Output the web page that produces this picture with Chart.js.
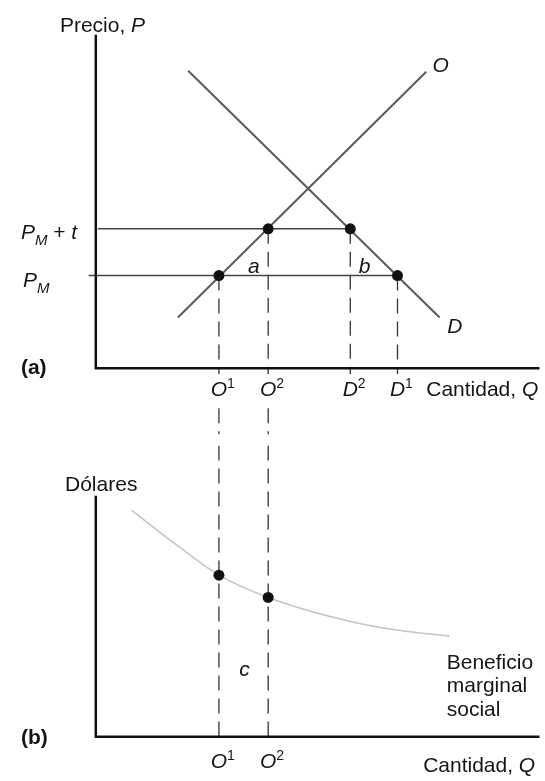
<!DOCTYPE html>
<html lang="es">
<head>
<meta charset="UTF-8">
<title>Arancel y beneficio marginal social</title>
<script src="https://cdn.jsdelivr.net/npm/chart.js"></script>
<style>
  body { margin: 0; background: #fff; }
  #wrap { position: relative; width: 545px; height: 781px; }
  canvas { position: absolute; left: 0; }
  #top { top: 0; }
  #bottom { top: 440px; }
</style>
</head>
<body>
<div id="wrap">
  <canvas id="top" width="545" height="440"></canvas>
  <canvas id="bottom" width="545" height="341"></canvas>
</div>
<script>
// cantidades (eje horizontal compartido)
const qO1 = 3.0, qO2 = 4.2, qD2 = 6.2, qD1 = 7.35;
const tickQTop = [qO1, qO2, qD2, qD1];
const tickLabelsTop = [["O", "1"], ["O", "2"], ["D", "2"], ["D", "1"]];
const tickQBottom = [qO1, qO2];
const tickLabelsBottom = [["O", "1"], ["O", "2"]];

// panel (a): oferta, demanda y precios
const supplyQ = [2.0, 8.05];
const supplyP = [1.3, 7.6];
const demandQ = [2.25, 8.375];
const demandP = [7.625, 1.3];
const pM = 2.375;     // P_M
const pMt = 3.575;    // P_M + t

// panel (b): beneficio marginal social
const benefitQ = [0.875, 1.975, 3.0, 4.2, 6.125, 7.375, 8.625];
const benefitD = [5.85, 4.95, 4.175, 3.6, 3.0, 2.75, 2.6];
const benefitDotQ = [qO1, qO2];
const benefitDotD = [4.175, 3.6];

const FONT = '"Liberation Sans", Arial, Helvetica, sans-serif';
const INK = "#151515";

const xy = (qs, vs) => qs.map((q, i) => ({ x: q, y: vs[i] }));

// texto con subíndices / superíndices
function drawRich(ctx, x, y, parts, align) {
    const specs = parts.map(p => {
        const sz = p.sz || 21;
        const f = (p.it ? "italic " : "") + (p.b ? "bold " : "") + sz + "px " + FONT;
        ctx.font = f;
        return { t: p.t, f: f, w: ctx.measureText(p.t).width, dy: p.dy || 0 };
    });
    const total = specs.reduce((s, p) => s + p.w, 0);
    let cx = x;
    if (align === "center") cx = x - total / 2;
    else if (align === "right") cx = x - total;
    else if (align === "base") cx = x - specs[0].w / 2;
    ctx.fillStyle = INK;
    ctx.textBaseline = "alphabetic";
    ctx.textAlign = "left";
    const base = y + 7.5;
    specs.forEach(p => {
        ctx.font = p.f;
        ctx.fillText(p.t, cx, base + p.dy);
        cx += p.w;
    });
}

function labelPlugin(labels) {
    return {
        id: "labels",
        afterDraw(chart) {
            const ctx = chart.ctx;
            const sx = chart.scales.x, sy = chart.scales.y;
            ctx.save();
            labels.forEach(l => {
                drawRich(ctx, sx.getPixelForValue(l.q), sy.getPixelForValue(l.v), l.parts, l.align);
            });
            ctx.restore();
        }
    };
}

function tickLabels(qs, names, v) {
    return qs.map((q, i) => ({
        q: q, v: v, align: "base",
        parts: [{ t: names[i][0], it: 1 }, { t: names[i][1], sz: 14, dy: -8 }]
    }));
}

function baseOptions(ymin, ymax) {
    return {
        responsive: false,
        animation: false,
        layout: { padding: 0 },
        plugins: { legend: { display: false }, tooltip: { enabled: false } },
        elements: { line: { tension: 0 } },
        scales: {
            x: { type: "linear", display: false, min: -2.2, max: 10.81 },
            y: { type: "linear", display: false, min: ymin, max: ymax }
        }
    };
}

function seg(data, color, width, dash) {
    return {
        data: data, showLine: true, pointRadius: 0,
        borderColor: color, borderWidth: width, borderDash: dash || [],
        fill: false
    };
}

// ---- panel (a)
const dashTop = [];
[[qO1, pM], [qO2, pMt], [qD2, pMt], [qD1, pM]].forEach(([q, p]) => {
    dashTop.push(seg([{ x: q, y: p }, { x: q, y: -0.15 }], "#333", 1.3, [15, 8]));
});
[qO1, qO2].forEach(q => {
    dashTop.push(seg([{ x: q, y: -1.025 }, { x: q, y: -1.7 }], "#333", 1.3, [15, 8]));
});

new Chart(document.getElementById("top"), {
    type: "scatter",
    data: {
        datasets: [
            {
                data: [{ x: qO1, y: pM }, { x: qO2, y: pMt }, { x: qD2, y: pMt }, { x: qD1, y: pM }],
                pointRadius: 5.5, pointBackgroundColor: "#111", pointBorderWidth: 0, showLine: false
            },
            seg([{ x: 0, y: 8.55 }, { x: 0, y: 0 }, { x: 11.6, y: 0 }], "#111", 2.5),
            seg(xy(supplyQ, supplyP), "#5a5a5a", 2),
            seg(xy(demandQ, demandP), "#5a5a5a", 2),
            seg([{ x: 0.05, y: pMt }, { x: qD2, y: pMt }], "#444", 1.5),
            seg([{ x: -0.175, y: pM }, { x: qD1, y: pM }], "#444", 1.5),
            ...dashTop
        ]
    },
    options: baseOptions(-1.7, 9.3),
    plugins: [labelPlugin([
        { q: -0.875, v: 8.825, parts: [{ t: "Precio, " }, { t: "P", it: 1 }] },
        { q: 8.4, v: 7.8, align: "center", parts: [{ t: "O", it: 1 }] },
        { q: 8.75, v: 1.1, align: "center", parts: [{ t: "D", it: 1 }] },
        { q: 3.85, v: 2.625, align: "center", parts: [{ t: "a", it: 1 }] },
        { q: 6.55, v: 2.625, align: "center", parts: [{ t: "b", it: 1 }] },
        { q: -1.825, v: pMt - 0.07, parts: [{ t: "P", it: 1 }, { t: "M", it: 1, sz: 15, dy: 6 }, { t: " + " }, { t: "t", it: 1 }] },
        { q: -1.775, v: pM - 0.1, parts: [{ t: "P", it: 1 }, { t: "M", it: 1, sz: 15, dy: 6 }] },
        { q: -1.825, v: 0.05, parts: [{ t: "(a)", b: 1 }] },
        { q: 8.05, v: -0.525, parts: [{ t: "Cantidad, " }, { t: "Q", it: 1 }] },
        ...tickLabels(tickQTop, tickLabelsTop, -0.525)
    ])]
});

// ---- panel (b)
const dashBottom = tickQBottom.map(q =>
    seg([{ x: q, y: 7.525 }, { x: q, y: -0.175 }], "#333", 1.3, [15, 8]));

new Chart(document.getElementById("bottom"), {
    type: "scatter",
    data: {
        datasets: [
            {
                data: xy(benefitDotQ, benefitDotD),
                pointRadius: 5.5, pointBackgroundColor: "#111", pointBorderWidth: 0, showLine: false
            },
            seg([{ x: 0, y: 6.225 }, { x: 0, y: 0 }, { x: 11.6, y: 0 }], "#111", 2.5),
            Object.assign(seg(xy(benefitQ, benefitD), "#c4c4c4", 1.5), { cubicInterpolationMode: "monotone" }),
            ...dashBottom
        ]
    },
    options: baseOptions(-1.0, 7.525),
    plugins: [labelPlugin([
        { q: -0.75, v: 6.55, parts: [{ t: "Dólares" }] },
        { q: 3.625, v: 1.775, align: "center", parts: [{ t: "c", it: 1 }] },
        { q: 8.55, v: 1.95, parts: [{ t: "Beneficio" }] },
        { q: 8.55, v: 1.35, parts: [{ t: "marginal" }] },
        { q: 8.55, v: 0.725, parts: [{ t: "social" }] },
        { q: -1.825, v: 0, parts: [{ t: "(b)", b: 1 }] },
        { q: 7.975, v: -0.725, parts: [{ t: "Cantidad, " }, { t: "Q", it: 1 }] },
        ...tickLabels(tickQBottom, tickLabelsBottom, -0.6)
    ])]
});
</script>
</body>
</html>
